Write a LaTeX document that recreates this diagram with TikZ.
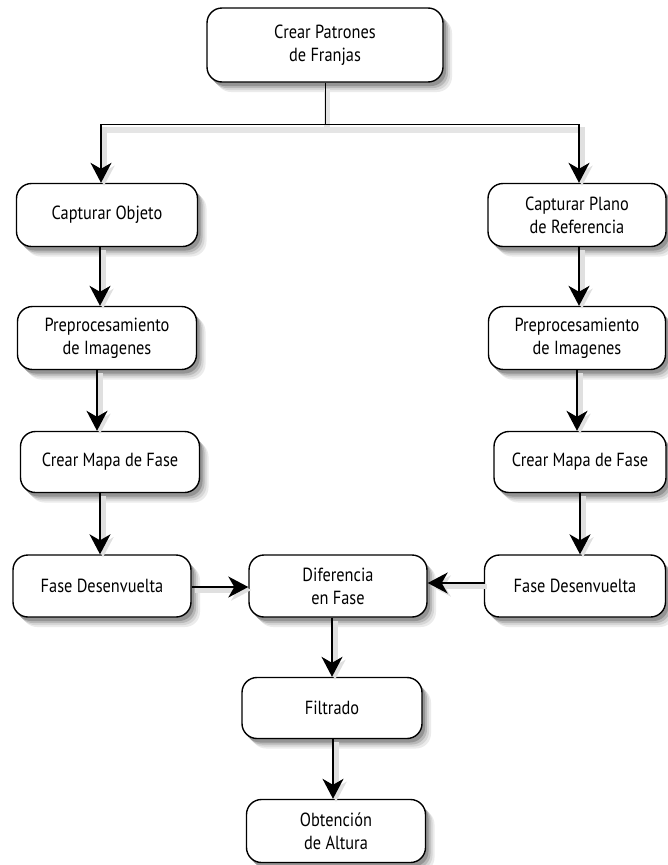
\documentclass[tikz,border=0pt]{standalone}
\usepackage{fontspec}
\setmainfont[FakeStretch=0.86]{PT Sans}
\usepackage{tikz}
\usetikzlibrary{arrows.meta}

\begin{document}
\begin{tikzpicture}[x=1pt,y=-1pt,
    paso/.style={draw,line width=1.4pt,rounded corners=15pt,fill=white,
      inner sep=0pt,align=center,font=\fontsize{19}{23}\selectfont},
    sombra/.style={rounded corners=15pt},
    flecha/.style={line width=1.4pt,-{Stealth[length=20pt,width=21pt,inset=6pt]},
      preaction={draw=black!12,line width=5pt,transform canvas={xshift=3pt,yshift=-3pt}}},
    linea/.style={line width=1pt,
      preaction={draw=black!10,line width=6pt,transform canvas={xshift=2pt,yshift=-6pt}}}]
  \useasboundingbox (0,0) rectangle (667,865);
  % pasos con sombra
  \foreach \nombre/\cx/\cy/\ancho/\alto/\texto in {
      patrones/325/45/236/74/{Crear Patrones\\de Franjas},
      capobj/107/215/181/63/{Capturar Objeto},
      capplano/577/215/178/63/{Capturar Plano\\de Referencia},
      preA/107/338/179/63/{Preprocesamiento\\de Imagenes},
      preB/577/338/177/63/{Preprocesamiento\\de Imagenes},
      mapaA/110/462/179/61/{Crear Mapa de Fase},
      mapaB/580/462/172/61/{Crear Mapa de Fase},
      faseA/102/586/178/62/{Fase Desenvuelta},
      dif/338/586/178/62/{Diferencia\\en Fase},
      faseB/575/586/181/62/{Fase Desenvuelta},
      filtro/332/708/180/61/{Filtrado},
      altura/336/831/179/63/{Obtenci\'on\\de Altura}}{
    \foreach \s/\tono in {9/8,7/16,5/28,3/42}
      \fill[sombra,black!\tono] (\cx-\ancho/2+\s,\cy-\alto/2+\s+1) rectangle (\cx+\ancho/2+\s,\cy+\alto/2+\s+1);
    \node[paso,minimum width=\ancho pt,minimum height=\alto pt] (\nombre) at (\cx,\cy) {\texto};
  }
  % ramas
  \coordinate (nudo) at (325,124);
  \coordinate (nudoA) at (101,124);
  \coordinate (nudoB) at (579,124);
  \draw[linea] (patrones) -- (nudo);
  \draw[linea] (nudoA) -- (nudoB);
  \draw[flecha] (nudoA) -- (nudoA |- capobj.north);
  \draw[flecha] (nudoB) -- (nudoB |- capplano.north);
  % columnas
  \draw[flecha] (capobj.south -| 100,0) -- (preA.north -| 100,0);
  \draw[flecha] (capplano.south -| 579,0) -- (preB.north -| 579,0);
  \draw[flecha] (preA.south -| 97,0) -- (mapaA.north -| 97,0);
  \draw[flecha] (preB.south -| 577,0) -- (mapaB.north -| 577,0);
  \draw[flecha] (mapaA.south -| 100,0) -- (faseA.north -| 100,0);
  \draw[flecha] (mapaB.south -| 580,0) -- (faseB.north -| 580,0);
  \draw[flecha] (faseA.east |- 0,587) -- (dif.west |- 0,587);
  \draw[flecha] (faseB.west |- 0,583) -- (dif.east |- 0,583);
  \draw[flecha] (dif.south -| 332,0) -- (filtro.north -| 332,0);
  \draw[flecha] (filtro.south -| 333,0) -- (altura.north -| 333,0);
\end{tikzpicture}
\end{document}
